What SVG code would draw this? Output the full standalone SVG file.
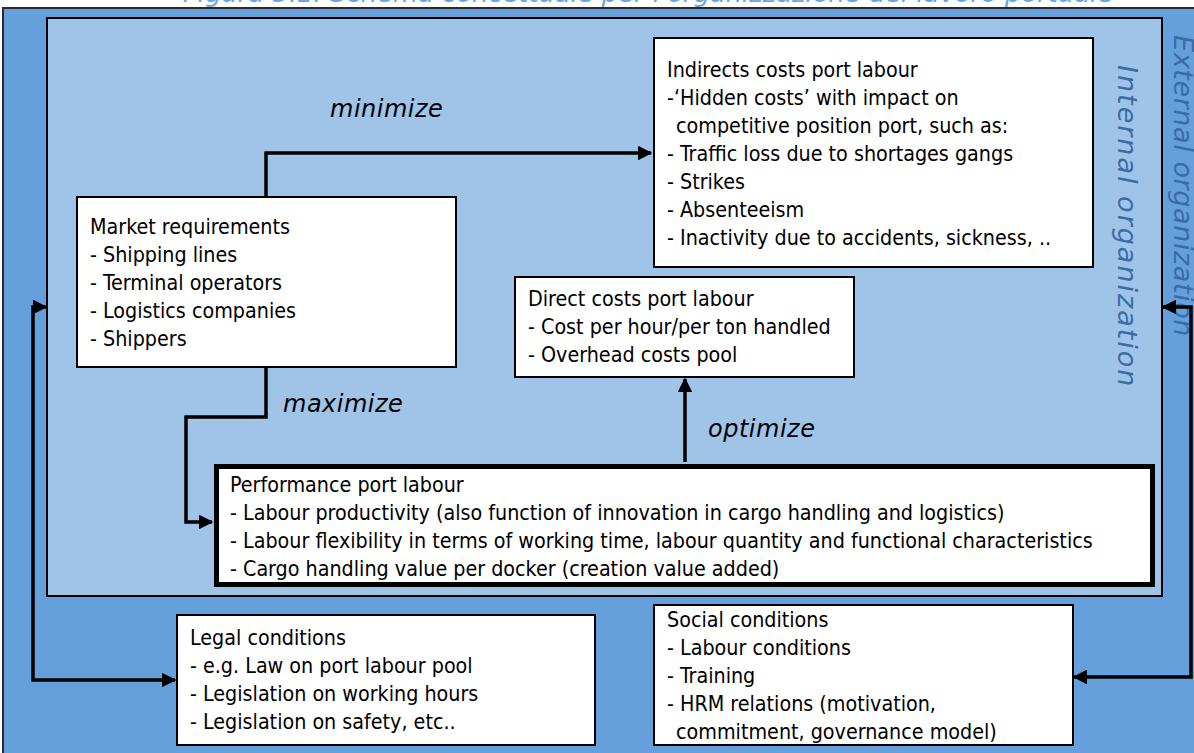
<svg xmlns="http://www.w3.org/2000/svg" width="1194" height="753" viewBox="0 0 1194 753">
<defs>
<style>
.box{fill:#fff;stroke:#000;stroke-width:2}
.t{font-family:"DejaVu Sans Condensed","DejaVu Sans",sans-serif;font-size:21.3px;fill:#000}
.lbl{font-family:"DejaVu Sans",sans-serif;font-style:italic;font-size:24px;letter-spacing:0.5px;fill:#000}
.vt{font-family:"DejaVu Sans",sans-serif;font-style:italic;font-size:27px;fill:#3a6ca5}
.con{fill:none;stroke:#000;stroke-width:3.5}
</style>
<marker id="ah" viewBox="0 0 10 10" refX="9" refY="5" markerWidth="4.2" markerHeight="4.2" orient="auto-start-reverse" markerUnits="strokeWidth">
<path d="M0,0 L10,5 L0,10 Z" fill="#000"/>
</marker>
</defs>
<rect x="0" y="0" width="1194" height="753" fill="#fff"/>
<text x="183" y="2" textLength="930" lengthAdjust="spacingAndGlyphs" style="font-family:'DejaVu Sans',sans-serif;font-style:italic;font-size:24px;fill:#6aa6de">Figura 5.1: Schema concettuale per l'organizzazione del lavoro portuale</text>
<rect x="3" y="8" width="1200" height="760" fill="#65a0dc" stroke="#2a2a2a" stroke-width="2"/>
<rect x="47" y="18" width="1115" height="578" fill="#a0c3e8" stroke="#000" stroke-width="2"/>
<text class="vt" transform="translate(1118,65) rotate(90)" letter-spacing="2">Internal organization</text>
<text class="vt" transform="translate(1174,35) rotate(90)" letter-spacing="0.6">External organization</text>
<g id="connectors">
<path class="con" d="M266,197 V153 H651" marker-end="url(#ah)"/>
<path class="con" d="M266,367 V417 H186 V522 H212" marker-end="url(#ah)"/>
<path class="con" d="M685,462 V379" marker-end="url(#ah)"/>
<path class="con" d="M46,307 H33 V680 H175" marker-start="url(#ah)" marker-end="url(#ah)"/>
<path class="con" d="M1163,307 H1191 V677 H1074" marker-start="url(#ah)" marker-end="url(#ah)"/>
<text class="lbl" x="330" y="117">minimize</text>
<text class="lbl" x="283" y="412">maximize</text>
<text class="lbl" x="708" y="437">optimize</text>
</g>
<g id="indirect">
<rect class="box" x="654" y="38" width="439" height="229"/>
<text class="t" x="667" y="77">Indirects costs port labour</text>
<text class="t" x="667" y="105">-‘Hidden costs’ with impact on</text>
<text class="t" x="676" y="133">competitive position port, such as:</text>
<text class="t" x="667" y="161">- Traffic loss due to shortages gangs</text>
<text class="t" x="667" y="189">- Strikes</text>
<text class="t" x="667" y="217">- Absenteeism</text>
<text class="t" x="667" y="245">- Inactivity due to accidents, sickness, ..</text>
</g>
<g id="market">
<rect class="box" x="77" y="197" width="379" height="170"/>
<text class="t" x="90" y="234">Market requirements</text>
<text class="t" x="90" y="262">- Shipping lines</text>
<text class="t" x="90" y="290">- Terminal operators</text>
<text class="t" x="90" y="318">- Logistics companies</text>
<text class="t" x="90" y="346">- Shippers</text>
</g>
<g id="direct">
<rect class="box" x="515" y="277" width="339" height="100"/>
<text class="t" x="528" y="306">Direct costs port labour</text>
<text class="t" x="528" y="334">- Cost per hour/per ton handled</text>
<text class="t" x="528" y="362">- Overhead costs pool</text>
</g>
<g id="performance">
<rect x="216.5" y="466.5" width="936" height="118" fill="#fff" stroke="#000" stroke-width="5"/>
<text class="t" x="230" y="492">Performance port labour</text>
<text class="t" x="230" y="520">- Labour productivity (also function of innovation in cargo handling and logistics)</text>
<text class="t" x="230" y="548">- Labour flexibility in terms of working time, labour quantity and functional characteristics</text>
<text class="t" x="230" y="576">- Cargo handling value per docker (creation value added)</text>
</g>
<g id="legal">
<rect class="box" x="177" y="615" width="418" height="130"/>
<text class="t" x="190" y="645">Legal conditions</text>
<text class="t" x="190" y="673">- e.g. Law on port labour pool</text>
<text class="t" x="190" y="701">- Legislation on working hours</text>
<text class="t" x="190" y="729">- Legislation on safety, etc..</text>
</g>
<g id="social">
<rect class="box" x="654" y="605" width="419" height="140"/>
<text class="t" x="667" y="627">Social conditions</text>
<text class="t" x="667" y="655">- Labour conditions</text>
<text class="t" x="667" y="683">- Training</text>
<text class="t" x="667" y="711">- HRM relations (motivation,</text>
<text class="t" x="676" y="739">commitment, governance model)</text>
</g>
</svg>
